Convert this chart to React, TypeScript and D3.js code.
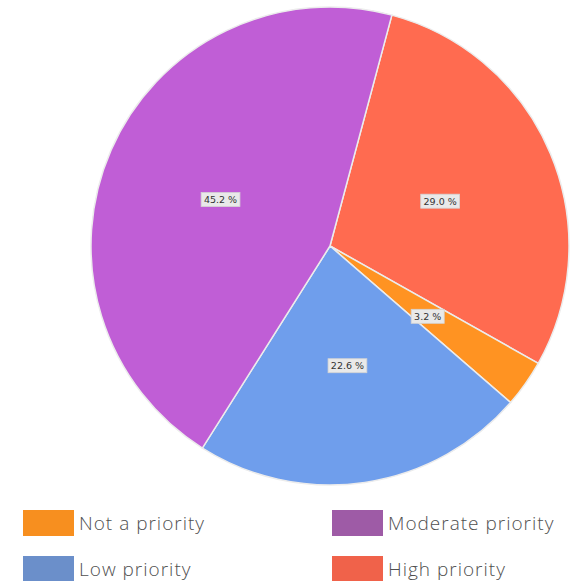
import React from "react";
import * as d3 from "d3";

const categories = ["High priority", "Not a priority", "Low priority", "Moderate priority"];
const values = [29.0, 3.2, 22.6, 45.2];
const sliceColors = ["#FF6B50", "#FF9322", "#6F9EEC", "#C05ED6"];
const legendOrder = ["Not a priority", "Moderate priority", "Low priority", "High priority"];
const legendColors = ["#F78F1F", "#9E5BA6", "#6B8FCA", "#F0624A"];

const W = 581;
const H = 581;
const cx = 330;
const cy = 246;
const R = 239;
const startDeg = 15;

export default function App() {
  const pie = d3
    .pie<number>()
    .sort(null)
    .startAngle((startDeg * Math.PI) / 180)
    .endAngle(((startDeg + 360) * Math.PI) / 180);
  const arcs = pie(values);
  const arc = d3.arc<d3.PieArcDatum<number>>().innerRadius(0).outerRadius(R);

  return (
    <svg
      width={W}
      height={H}
      style={{ position: "absolute", left: 0, top: 0, background: "#fff" }}
    >
      <g transform={`translate(${cx},${cy})`}>
        {arcs.map((a, i) => (
          <path
            key={categories[i]}
            d={arc(a) || ""}
            fill={sliceColors[i]}
            stroke="#ececec"
            strokeWidth={1.5}
          />
        ))}
        {arcs.map((a, i) => {
          const [x, y] = arc.centroid(a);
          const label = `${values[i].toFixed(1)} %`;
          const w = label.length * 5.8 + 4;
          return (
            <g key={"l" + i} transform={`translate(${x},${y + 1.5})`}>
              <rect
                x={-w / 2}
                y={-7}
                width={w}
                height={14}
                fill="#e9e9e9"
                stroke="#d4d4d4"
                strokeWidth={0.8}
              />
              <text
                textAnchor="middle"
                dy="0.35em"
                fontFamily="DejaVu Sans, Verdana, sans-serif"
                fontSize={9.5}
                fill="#333"
              >
                {label}
              </text>
            </g>
          );
        })}
      </g>
      {legendOrder.map((name, i) => {
        const col = i % 2;
        const row = Math.floor(i / 2);
        const x = col === 0 ? 23 : 332;
        const y = 510 + row * 46;
        return (
          <g key={name} transform={`translate(${x},${y})`}>
            <rect width={51} height={26} fill={legendColors[i]} />
            <text
              x={56}
              y={13}
              dy="0.35em"
              fontFamily="Open Sans, sans-serif"
              fontSize={19}
              fontWeight={300}
              letterSpacing={1}
              fill="#4f4f4f"
            >
              {name}
            </text>
          </g>
        );
      })}
    </svg>
  );
}
